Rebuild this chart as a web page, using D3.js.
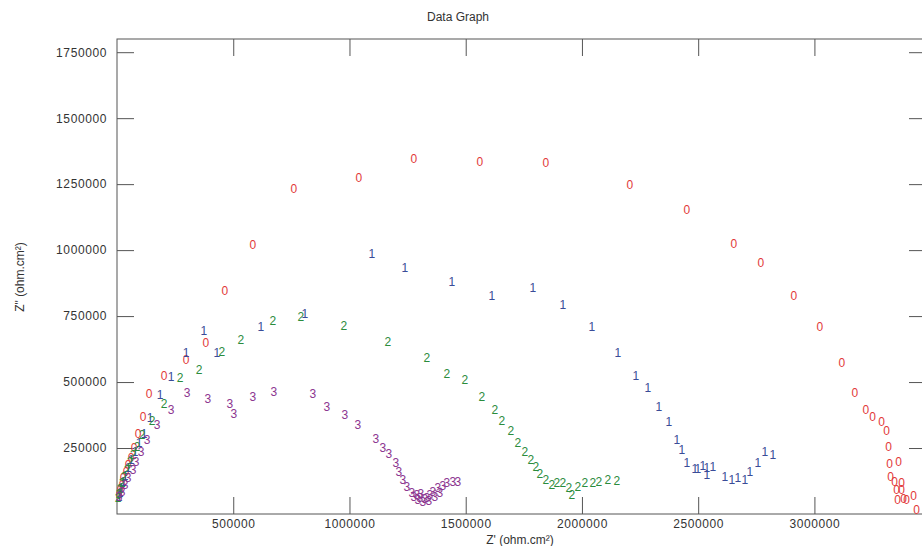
<!DOCTYPE html>
<html><head><meta charset="utf-8">
<script src="https://cdn.jsdelivr.net/npm/d3@7/dist/d3.min.js"></script>
<style>html,body{margin:0;padding:0;background:#fff;overflow:hidden}</style>
</head><body><svg id="chart" width="922" height="546"></svg>
<script>
const title = "Data Graph";
const xLabel = "Z' (ohm.cm²)";
const yLabel = "Z\" (ohm.cm²)";
const xTicks = [500000, 1000000, 1500000, 2000000, 2500000, 3000000];
const yTicks = [250000, 500000, 750000, 1000000, 1250000, 1500000, 1750000];
const seriesNames = ["0", "1", "2", "3"];
const seriesColors = ["#e23a3a", "#3a4c98", "#2b8c3c", "#8c3590"];

const series0 = [[8600,72000],[12900,90900],[21500,109800],[25800,136400],[38700,159100],[47300,185600],[60200,212100],[73100,250000],[90300,303000],[111800,367400],[137600,454500],[202100,522700],[296700,583300],[382700,647700],[464400,844700],[584800,1019000],[761100,1231000],[1040600,1272800],[1277100,1344700],[1560900,1333400],[1844700,1329600],[2205900,1246300],[2451000,1151600],[2653100,1022800],[2769200,950800],[2911100,825800],[3022900,708400],[3117500,572000],[3173400,458300],[3220700,394000],[3250800,367400],[3289500,348500],[3311000,314400],[3319600,253800],[3323900,189400],[3362600,197000],[3328200,140200],[3345400,121200],[3375500,117400],[3354000,90900],[3375500,90900],[3358300,53000],[3384100,56800],[3427100,68200],[3397000,53000],[3440000,15200]];
const series1 = [[8600,64400],[12900,79500],[17200,98500],[25800,121200],[34400,143900],[47300,174200],[60200,204600],[77400,234900],[94600,268900],[116100,303000],[141900,363600],[184900,450800],[232200,519000],[296700,609900],[374100,693300],[430000,609900],[619200,708400],[808400,757600],[1096500,984900],[1238400,931800],[1440500,878800],[1612500,825800],[1788800,856100],[1917800,791700],[2042500,708400],[2154300,609900],[2231700,522700],[2283300,477300],[2330600,405300],[2373600,348500],[2408000,280300],[2429500,242400],[2451000,193200],[2485400,170500],[2498300,170500],[2519800,181800],[2537000,147700],[2537000,174200],[2562800,178000],[2614400,140200],[2644500,128800],[2670300,136400],[2700400,128800],[2721900,159100],[2756300,193200],[2786400,234900],[2820800,223500]];
const series2 = [[4300,60600],[8600,75800],[12900,94700],[21500,117400],[30100,140200],[43000,166700],[55900,197000],[68800,223500],[86000,253800],[107500,299300],[150500,352300],[202100,416700],[270900,515200],[352600,545500],[451500,613700],[533200,659100],[670800,731100],[791200,746200],[976100,712100],[1165300,651500],[1333000,590900],[1419000,530300],[1496400,507600],[1569500,443200],[1625400,394000],[1655500,352300],[1694200,314400],[1724300,268900],[1754400,234900],[1780200,204600],[1801700,178000],[1818900,151500],[1844700,128800],[1870500,109900],[1892000,117400],[1917800,117400],[1943600,98500],[1956500,72000],[1982300,102300],[2012400,117400],[2046800,117400],[2072600,121200],[2111300,128800],[2150000,125000]];
const series3 = [[8600,64400],[21500,83300],[34400,109900],[47300,136400],[68800,166700],[81700,197000],[103200,234900],[129000,280300],[172000,337100],[232200,394000],[301000,458300],[391300,435600],[485900,416700],[503100,378800],[584800,443200],[675100,462100],[842800,454600],[903000,405300],[980400,375000],[1036300,337100],[1113700,284100],[1143800,250000],[1169600,227300],[1199700,193200],[1212600,159100],[1229800,128800],[1247000,102300],[1268500,79500],[1277100,64400],[1290000,72000],[1294300,53000],[1302900,60600],[1307200,75800],[1315800,45500],[1324400,56800],[1333000,60600],[1341600,49200],[1345900,72000],[1358800,83300],[1367400,64400],[1380300,98500],[1388900,79500],[1401800,106100],[1419000,117400],[1444800,121200],[1466300,121200]];
const allSeries = [series0, series1, series2, series3];

const svg = d3.select("#chart");
const font = "'Liberation Sans', Arial, sans-serif";
const mLeft = 117, mRight = 926, mTop = 39, mBottom = 514;
const x = d3.scaleLinear().domain([0, 3480000]).range([mLeft, mRight]);
const y = d3.scaleLinear().domain([0, 1800000]).range([mBottom, mTop]);
const axisColor = "#555";
const textColor = "#333";

// frame
svg.append("rect").attr("x", mLeft).attr("y", mTop).attr("width", mRight - mLeft).attr("height", mBottom - mTop)
  .attr("fill", "none").attr("stroke", axisColor).attr("stroke-width", 1);

const fmt = d3.format("d");
const tl = 17;
const bAxis = svg.append("g").attr("transform", `translate(0,${mBottom})`)
  .call(d3.axisBottom(x).tickValues(xTicks).tickFormat(fmt).tickSizeInner(-tl).tickSizeOuter(0).tickPadding(5));
const tAxis = svg.append("g").attr("transform", `translate(0,${mTop})`)
  .call(d3.axisTop(x).tickValues(xTicks).tickFormat("").tickSizeInner(-tl).tickSizeOuter(0));
const lAxis = svg.append("g").attr("transform", `translate(${mLeft},0)`)
  .call(d3.axisLeft(y).tickValues(yTicks).tickFormat(fmt).tickSizeInner(-tl).tickSizeOuter(0).tickPadding(10));
const rAxis = svg.append("g").attr("transform", `translate(${mRight},0)`)
  .call(d3.axisRight(y).tickValues(yTicks).tickFormat("").tickSizeInner(-tl).tickSizeOuter(0));
[bAxis, tAxis, lAxis, rAxis].forEach(g => {
  g.select(".domain").remove();
  g.selectAll("line").attr("stroke", axisColor);
  g.selectAll("text").attr("fill", textColor).style("font-family", font).style("font-size", "12px").style("letter-spacing", "0.6px");
});

// title and labels
svg.append("text").attr("x", 458).attr("y", 17).attr("text-anchor", "middle").attr("dominant-baseline", "central")
  .style("font-family", font).style("font-size", "12px").attr("fill", textColor).text(title);
svg.append("text").attr("x", 520).attr("y", 540).attr("text-anchor", "middle").attr("dominant-baseline", "central")
  .style("font-family", font).style("font-size", "12px").attr("fill", textColor).text(xLabel);
svg.append("text").attr("transform", "translate(20,277) rotate(-90)").attr("text-anchor", "middle").attr("dominant-baseline", "central")
  .style("font-family", font).style("font-size", "12px").attr("fill", textColor).text(yLabel);

// markers
const plot = svg.append("g");
allSeries.forEach((s, i) => {
  plot.append("g").selectAll("text").data(s).join("text")
    .attr("x", d => x(d[0])).attr("y", d => y(d[1]))
    .attr("text-anchor", "middle").attr("dominant-baseline", "central")
    .style("font-family", font).style("font-size", "12px")
    .attr("fill", seriesColors[i]).text(seriesNames[i]);
});
</script></body></html>
